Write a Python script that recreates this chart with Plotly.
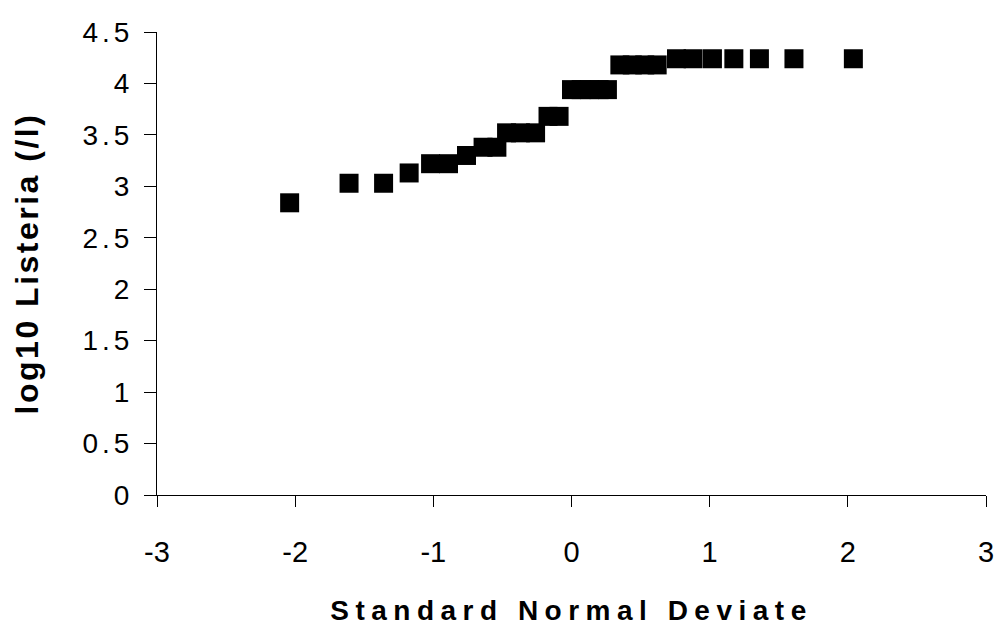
import plotly.graph_objects as go

# Standard normal deviate (x) and log10 Listeria (/l) (y)
deviate = [-2.04, -1.61, -1.36, -1.175, -1.02, -0.89, -0.76, -0.64, -0.54,
           -0.47, -0.37, -0.26, -0.17, -0.09,
           0.00, 0.07, 0.13, 0.20, 0.26,
           0.35, 0.44, 0.53, 0.62,
           0.76, 0.88, 1.02, 1.175, 1.36, 1.61, 2.04]
log_listeria = [2.84, 3.03, 3.03, 3.13, 3.22, 3.22, 3.30, 3.38, 3.38,
                3.52, 3.52, 3.52, 3.68, 3.68,
                3.94, 3.94, 3.94, 3.94, 3.94,
                4.18, 4.18, 4.18, 4.18,
                4.24, 4.24, 4.24, 4.24, 4.24, 4.24, 4.24]

x_ticks = [-3, -2, -1, 0, 1, 2, 3]
y_ticks = [0, 0.5, 1, 1.5, 2, 2.5, 3, 3.5, 4, 4.5]
y_tick_labels = ["0", "0.5", "1", "1.5", "2", "2.5", "3", "3.5", "4", "4.5"]

FONT = "Liberation Sans, Arial, sans-serif"

fig = go.Figure()
fig.add_trace(go.Scatter(
    x=deviate, y=log_listeria, mode="markers",
    marker=dict(symbol="square", size=19, color="black"),
    showlegend=False, hoverinfo="x+y",
))

fig.update_layout(
    width=1004, height=630,
    margin=dict(l=157, r=10, t=32, b=134),
    paper_bgcolor="white", plot_bgcolor="white",
    xaxis=dict(
        range=[-3, 3], tickvals=x_ticks, ticktext=[str(v) for v in x_ticks],
        showgrid=False, zeroline=False, showline=True, linecolor="black", linewidth=1,
        ticks="outside", ticklen=11, tickcolor="black", tickwidth=1,
        tickfont=dict(family=FONT, size=29, color="black"),
        ticklabelstandoff=20,
        title=dict(text="<b>Standard Normal Deviate</b>",
                   font=dict(family=FONT, size=28, color="black"),
                   standoff=33),
    ),
    yaxis=dict(
        range=[0, 4.5], tickvals=y_ticks, ticktext=y_tick_labels,
        showgrid=False, zeroline=False, showline=True, linecolor="black", linewidth=1,
        ticks="outside", ticklen=12, tickcolor="black", tickwidth=1,
        tickfont=dict(family=FONT, size=28, color="black"),
        ticklabelstandoff=5,
        title=dict(text="<b>log10 Listeria (/l)</b>",
                   font=dict(family=FONT, size=32, color="black"),
                   standoff=46),
    ),
)

# letter spacing as in the original chart's typography
js = """
(function(){
  function sp(){
    document.querySelectorAll('.ytick text').forEach(function(t){t.style.letterSpacing='4px';});
    document.querySelectorAll('.g-xtitle text').forEach(function(t){t.style.letterSpacing='6.5px';});
    document.querySelectorAll('.g-ytitle text').forEach(function(t){t.style.letterSpacing='2.5px';});
  }
  sp();
  var gd = document.getElementById('{plot_id}');
  if (gd && gd.on) { gd.on('plotly_afterplot', sp); }
})();
"""

fig.write_html("out.html", post_script=js)
